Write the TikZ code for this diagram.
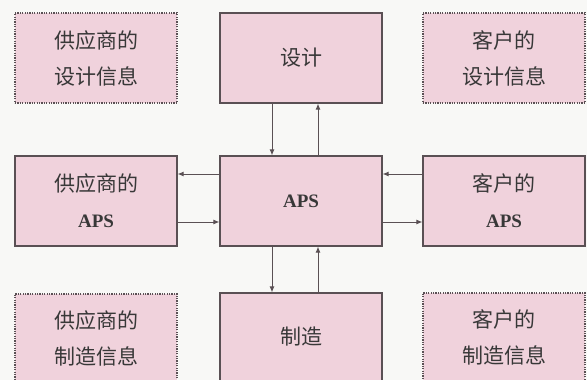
\documentclass[tikz,border=0pt]{standalone}
\usepackage{fontspec}
\setmainfont{Liberation Serif}
\newfontfamily\cjk{Noto Sans CJK SC}
\newcommand{\apstxt}{{\fontsize{19}{36}\selectfont\bfseries APS}}
\usetikzlibrary{arrows.meta}
\definecolor{boxfill}{RGB}{240,210,220}
\definecolor{boxline}{RGB}{90,80,84}
\definecolor{bgcol}{RGB}{248,248,246}
\tikzset{
  base/.style={fill=boxfill, minimum width=162pt, minimum height=90pt, inner sep=0pt,
    align=center, font=\fontsize{21}{36}\selectfont, text=black!78},
  solidbox/.style={base, draw=boxline, line width=1.2pt},
  dotbox/.style={base, draw=boxline, line width=1.2pt, dash pattern=on 1.2pt off 1.2pt},
  arr/.style={draw=boxline, line width=0.9pt, -{Latex[length=6pt,width=5pt]}}
}
\begin{document}
\begin{tikzpicture}[x=1pt,y=-1pt]
\fill[bgcol] (0,0) rectangle (587,380);
\useasboundingbox (0,0) rectangle (587,380);
% top row
\node[dotbox]  (supdes) at (96,58)  {\cjk 供应商的\\\cjk 设计信息};
\node[solidbox](design) at (301,58) {\cjk 设计};
\node[dotbox]  (cusdes) at (504,58) {\cjk 客户的\\\cjk 设计信息};
% middle row
\node[solidbox](supaps) at (96,201)  {\cjk 供应商的\\\apstxt};
\node[solidbox](aps)    at (301,201) {\apstxt};
\node[solidbox](cusaps) at (504,201) {\cjk 客户的\\\apstxt};
% bottom row
\node[dotbox, minimum height=88pt]  (supmfg) at (96,338)  {\cjk 供应商的\\\cjk 制造信息};
\node[solidbox, minimum height=88pt](mfg)    at (301,337) {\cjk 制造};
\node[dotbox, minimum height=88pt]  (cusmfg) at (504,337) {\cjk 客户的\\\cjk 制造信息};
% arrows
\draw[arr] ([xshift=-29pt]design.south) -- ([xshift=-29pt]aps.north);
\draw[arr] ([xshift=17pt]aps.north) -- ([xshift=17pt]design.south);
\draw[arr] ([yshift=27pt]aps.west) -- ([yshift=27pt]supaps.east);
\draw[arr] ([yshift=-21pt]supaps.east) -- ([yshift=-21pt]aps.west);
\draw[arr] ([yshift=27pt]cusaps.west) -- ([yshift=27pt]aps.east);
\draw[arr] ([yshift=-21pt]aps.east) -- ([yshift=-21pt]cusaps.west);
\draw[arr] ([xshift=-29pt]aps.south) -- ([xshift=-29pt]mfg.north);
\draw[arr] ([xshift=17pt]mfg.north) -- ([xshift=17pt]aps.south);
\end{tikzpicture}
\end{document}
